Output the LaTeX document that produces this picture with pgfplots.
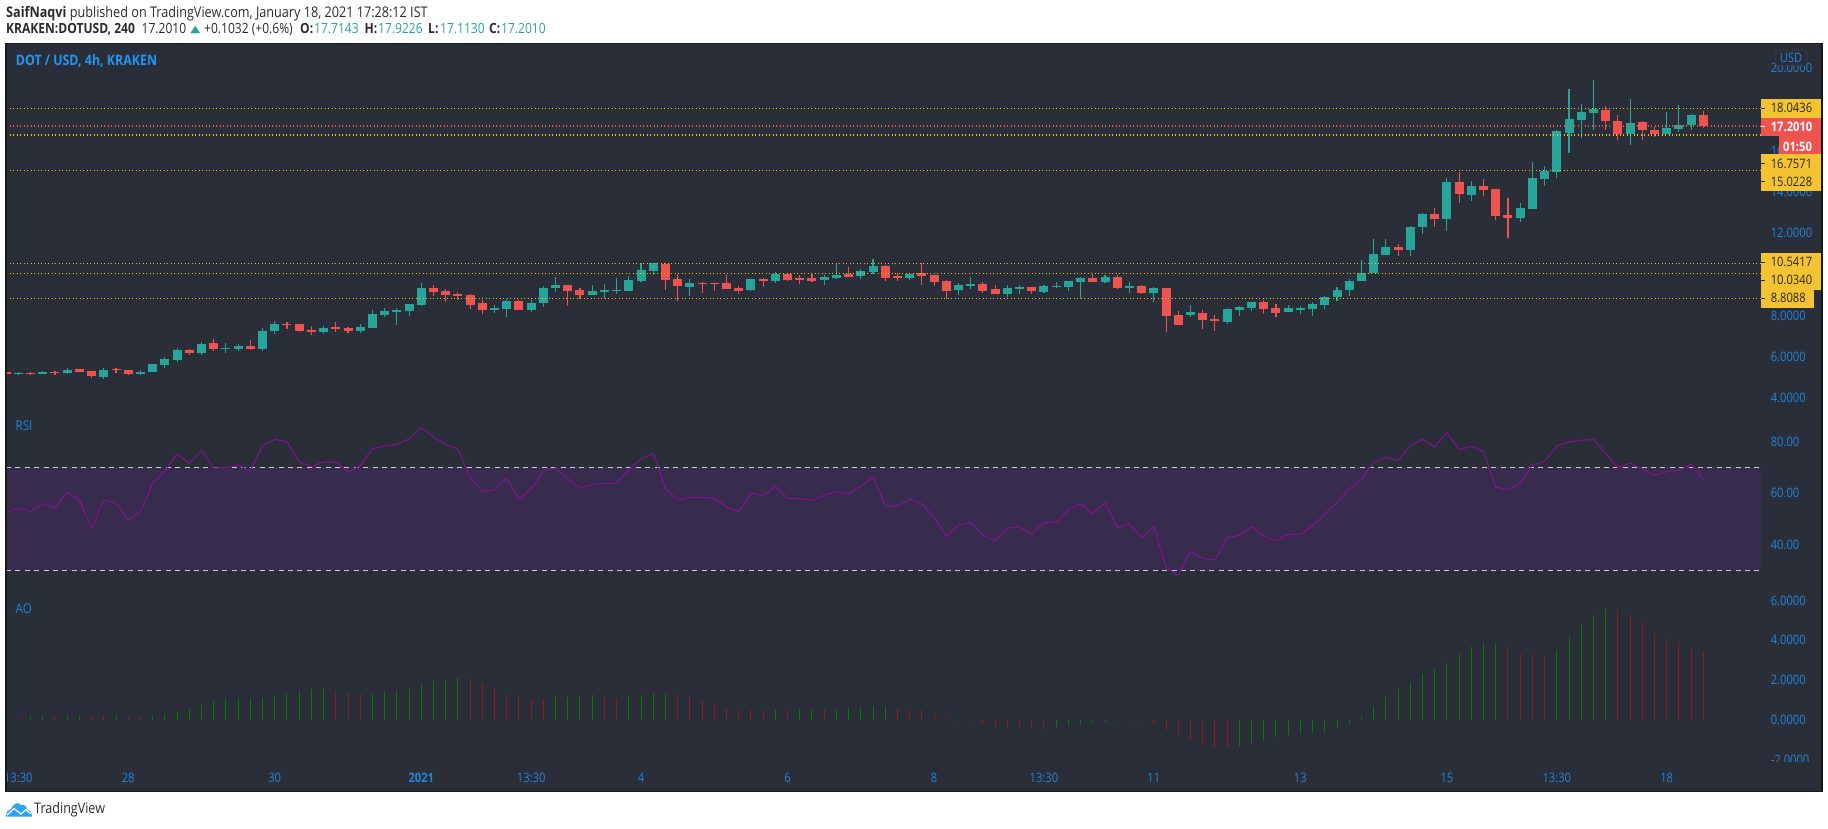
\documentclass[border=0pt]{standalone}
\usepackage{fontspec}
\usepackage{pgfplots}
\pgfplotsset{compat=1.18}
\newfontfamily\tv[FakeStretch=0.86]{Open Sans}
\newfontfamily\djv{DejaVu Sans}
\definecolor{tvbg}{HTML}{2A2E39}
\definecolor{tvteal}{HTML}{26A69A}
\definecolor{tvred}{HTML}{EF5350}
\definecolor{tvblue}{HTML}{2186DC}
\definecolor{tvtitle}{HTML}{2196F3}
\definecolor{tvyel}{HTML}{F3C331}
\definecolor{lvl}{HTML}{F7BC10}
\definecolor{bandc}{HTML}{382C4E}
\definecolor{rsic}{HTML}{82128E}
\definecolor{dashc}{HTML}{CFC8D8}
\definecolor{aog}{HTML}{008000}
\definecolor{aor}{HTML}{8B1E1E}
\definecolor{tvdark}{HTML}{3A3D45}
\definecolor{hdr}{HTML}{2B2B2B}
\definecolor{logo}{HTML}{2DA3F7}
\newcommand\Cdl[5]{%
 \ifdim #2pt>#5pt \def\cc{tvred}\else\def\cc{tvteal}\fi
 \edef\tmp{\noexpand\addplot[\cc,line width=1.1pt,forget plot] coordinates {(#1,#4)(#1,#3)};
 \noexpand\addplot[\cc,line width=9pt,forget plot] coordinates {(#1,#2)(#1,#5)};}\tmp}
\newcommand\Lv[2]{\addplot[#2,line width=1.2pt,dash pattern=on 1.4pt off 2.1pt,forget plot] coordinates {(-0.01,#1)(143.73,#1)};}
\pgfplotsset{pane/.style={
  at={(6pt,36.5pt)},anchor=south west,scale only axis,width=1816pt,height=748pt,
  xmin=-0.01,xmax=148.72,
  major tick length=0pt,tick style={draw=none},
  yticklabel pos=right,
  yticklabel style={font=\tv\fontsize{13}{13}\selectfont,text=tvblue,anchor=west,inner sep=0pt,xshift=-51.4pt},
  axis line style={draw=none},
}}
\begin{document}
\begin{tikzpicture}
\useasboundingbox (0,0) rectangle (1828pt,828pt);
\fill[white] (0,0) rectangle (1828pt,828pt);
% ---------- price
\begin{axis}[pane,
  axis background/.style={fill=tvbg},
  ymin=-15.107,ymax=21.204,
  ytick={4,6,8,10,12,14,16,18,20},
  /pgf/number format/.cd,fixed,fixed zerofill,precision=4,assume math mode=true,1000 sep={},/pgfplots/.cd,
  xtick={1,10,22,34,43,52,64,76,85,94,106,118,127,136},
  xticklabels={13:30,28,30,\bfseries 2021,13:30,4,6,8,13:30,11,13,15,13:30,18},
  xticklabel style={font=\tv\fontsize{13}{13}\selectfont,text=tvblue,anchor=center,yshift=13.8pt},
]
\Cdl{0}{5.26}{5.26}{5.18}{5.18}
\Cdl{1}{5.16}{5.26}{5.11}{5.21}
\Cdl{2}{5.21}{5.26}{5.13}{5.16}
\Cdl{3}{5.16}{5.31}{5.16}{5.26}
\Cdl{4}{5.26}{5.31}{5.11}{5.21}
\Cdl{5}{5.21}{5.45}{5.16}{5.35}
\Cdl{6}{5.40}{5.40}{5.26}{5.26}
\Cdl{7}{5.31}{5.31}{4.97}{5.06}
\Cdl{8}{5.01}{5.45}{4.92}{5.35}
\Cdl{9}{5.39}{5.45}{5.21}{5.34}
\Cdl{10}{5.35}{5.35}{5.11}{5.16}
\Cdl{11}{5.16}{5.35}{5.11}{5.26}
\Cdl{12}{5.26}{5.65}{5.26}{5.65}
\Cdl{13}{5.60}{5.99}{5.45}{5.89}
\Cdl{14}{5.84}{6.42}{5.74}{6.33}
\Cdl{15}{6.33}{6.37}{6.08}{6.18}
\Cdl{16}{6.18}{6.71}{6.08}{6.62}
\Cdl{17}{6.67}{6.86}{6.28}{6.37}
\Cdl{18}{6.37}{6.67}{6.18}{6.42}
\Cdl{19}{6.37}{6.62}{6.28}{6.52}
\Cdl{20}{6.52}{6.81}{6.33}{6.37}
\Cdl{21}{6.37}{7.39}{6.28}{7.25}
\Cdl{22}{7.25}{7.73}{7.10}{7.59}
\Cdl{23}{7.60}{7.68}{7.34}{7.56}
\Cdl{24}{7.59}{7.59}{7.20}{7.25}
\Cdl{25}{7.30}{7.49}{7.05}{7.20}
\Cdl{26}{7.20}{7.49}{7.10}{7.39}
\Cdl{27}{7.44}{7.68}{7.20}{7.34}
\Cdl{28}{7.39}{7.44}{7.15}{7.25}
\Cdl{29}{7.25}{7.59}{7.15}{7.44}
\Cdl{30}{7.39}{8.27}{7.39}{8.07}
\Cdl{31}{8.02}{8.36}{7.93}{8.22}
\Cdl{32}{8.17}{8.36}{7.54}{8.27}
\Cdl{33}{8.22}{8.56}{7.98}{8.56}
\Cdl{34}{8.51}{9.58}{8.46}{9.33}
\Cdl{35}{9.33}{9.48}{8.95}{9.14}
\Cdl{36}{9.19}{9.29}{8.66}{9.00}
\Cdl{37}{9.04}{9.14}{8.75}{8.95}
\Cdl{38}{9.00}{9.04}{8.32}{8.51}
\Cdl{39}{8.61}{8.75}{8.07}{8.27}
\Cdl{40}{8.27}{8.51}{8.12}{8.36}
\Cdl{41}{8.32}{8.80}{7.93}{8.70}
\Cdl{42}{8.70}{8.75}{8.27}{8.27}
\Cdl{43}{8.27}{8.75}{8.17}{8.61}
\Cdl{44}{8.61}{9.43}{8.41}{9.33}
\Cdl{45}{9.33}{9.87}{9.14}{9.48}
\Cdl{46}{9.48}{9.48}{8.46}{9.19}
\Cdl{47}{9.24}{9.33}{8.80}{9.00}
\Cdl{48}{9.00}{9.48}{9.00}{9.19}
\Cdl{49}{9.14}{9.53}{8.80}{9.24}
\Cdl{50}{9.19}{9.82}{9.04}{9.24}
\Cdl{51}{9.19}{9.92}{9.19}{9.72}
\Cdl{52}{9.68}{10.55}{9.63}{10.21}
\Cdl{53}{10.16}{10.55}{9.97}{10.55}
\Cdl{54}{10.50}{10.55}{9.24}{9.72}
\Cdl{55}{9.77}{10.02}{8.70}{9.43}
\Cdl{56}{9.38}{9.77}{8.95}{9.58}
\Cdl{57}{9.59}{9.63}{9.09}{9.55}
\Cdl{58}{9.58}{9.58}{9.19}{9.53}
\Cdl{59}{9.58}{9.97}{9.29}{9.29}
\Cdl{60}{9.34}{9.43}{9.04}{9.19}
\Cdl{61}{9.24}{9.77}{9.19}{9.77}
\Cdl{62}{9.77}{9.82}{9.38}{9.68}
\Cdl{63}{9.68}{10.11}{9.58}{10.02}
\Cdl{64}{10.02}{10.02}{9.68}{9.72}
\Cdl{65}{9.82}{9.97}{9.53}{9.72}
\Cdl{66}{9.82}{10.02}{9.63}{9.68}
\Cdl{67}{9.72}{9.97}{9.48}{9.87}
\Cdl{68}{9.82}{10.50}{9.77}{9.97}
\Cdl{69}{10.02}{10.36}{9.87}{9.87}
\Cdl{70}{9.92}{10.26}{9.77}{10.16}
\Cdl{71}{10.11}{10.74}{10.02}{10.40}
\Cdl{72}{10.40}{10.45}{9.68}{9.82}
\Cdl{73}{9.92}{10.06}{9.68}{9.82}
\Cdl{74}{9.82}{10.06}{9.72}{10.02}
\Cdl{75}{10.06}{10.55}{9.48}{9.92}
\Cdl{76}{9.97}{9.97}{9.43}{9.63}
\Cdl{77}{9.68}{9.72}{8.80}{9.19}
\Cdl{78}{9.24}{9.58}{9.00}{9.48}
\Cdl{79}{9.43}{9.87}{9.29}{9.53}
\Cdl{80}{9.53}{9.63}{9.09}{9.19}
\Cdl{81}{9.29}{9.48}{9.04}{9.04}
\Cdl{82}{9.04}{9.48}{8.90}{9.34}
\Cdl{83}{9.29}{9.48}{9.04}{9.38}
\Cdl{84}{9.38}{9.38}{9.04}{9.19}
\Cdl{85}{9.14}{9.48}{9.09}{9.43}
\Cdl{86}{9.38}{9.63}{9.34}{9.45}
\Cdl{87}{9.38}{9.68}{9.19}{9.68}
\Cdl{88}{9.63}{9.87}{8.80}{9.82}
\Cdl{89}{9.82}{10.02}{9.63}{9.63}
\Cdl{90}{9.63}{9.97}{9.58}{9.87}
\Cdl{91}{9.87}{9.97}{9.29}{9.34}
\Cdl{92}{9.34}{9.63}{9.09}{9.43}
\Cdl{93}{9.43}{9.48}{9.04}{9.09}
\Cdl{94}{9.09}{9.38}{8.66}{9.34}
\Cdl{95}{9.34}{9.34}{7.20}{7.98}
\Cdl{96}{8.03}{8.22}{7.54}{7.54}
\Cdl{97}{8.03}{8.51}{7.93}{8.17}
\Cdl{98}{8.12}{8.27}{7.35}{7.78}
\Cdl{99}{7.83}{8.03}{7.25}{7.73}
\Cdl{100}{7.69}{8.37}{7.59}{8.32}
\Cdl{101}{8.27}{8.46}{7.98}{8.41}
\Cdl{102}{8.37}{8.66}{8.22}{8.66}
\Cdl{103}{8.66}{8.75}{8.07}{8.32}
\Cdl{104}{8.37}{8.56}{7.93}{8.12}
\Cdl{105}{8.17}{8.51}{8.17}{8.37}
\Cdl{106}{8.27}{8.46}{8.07}{8.37}
\Cdl{107}{8.32}{8.66}{7.98}{8.56}
\Cdl{108}{8.51}{8.95}{8.32}{8.90}
\Cdl{109}{8.90}{9.39}{8.71}{9.24}
\Cdl{110}{9.24}{9.77}{8.95}{9.68}
\Cdl{111}{9.68}{10.70}{9.68}{10.06}
\Cdl{112}{10.06}{11.72}{10.06}{10.99}
\Cdl{113}{10.94}{11.72}{10.94}{11.33}
\Cdl{114}{11.33}{11.47}{10.89}{11.18}
\Cdl{115}{11.18}{12.35}{10.89}{12.30}
\Cdl{116}{12.30}{12.98}{11.96}{12.93}
\Cdl{117}{12.93}{13.22}{12.30}{12.69}
\Cdl{118}{12.69}{14.68}{12.10}{14.48}
\Cdl{119}{14.48}{14.97}{13.46}{13.90}
\Cdl{120}{13.85}{14.53}{13.56}{14.29}
\Cdl{121}{14.29}{14.63}{13.80}{14.09}
\Cdl{122}{14.14}{14.14}{12.64}{12.83}
\Cdl{123}{12.88}{13.71}{11.76}{12.73}
\Cdl{124}{12.73}{13.46}{12.54}{13.22}
\Cdl{125}{13.17}{15.45}{13.17}{14.68}
\Cdl{126}{14.63}{15.26}{14.29}{15.02}
\Cdl{127}{14.97}{17.01}{14.68}{16.96}
\Cdl{128}{16.86}{19.00}{15.89}{17.54}
\Cdl{129}{17.49}{18.27}{16.62}{17.88}
\Cdl{130}{17.83}{19.43}{17.01}{18.03}
\Cdl{131}{17.98}{18.17}{17.01}{17.44}
\Cdl{132}{17.44}{17.73}{16.52}{16.81}
\Cdl{133}{16.81}{18.51}{16.28}{17.35}
\Cdl{134}{17.39}{17.44}{16.52}{17.01}
\Cdl{135}{17.01}{17.15}{16.67}{16.81}
\Cdl{136}{16.81}{17.88}{16.81}{17.10}
\Cdl{137}{17.05}{18.22}{16.91}{17.25}
\Cdl{138}{17.25}{17.78}{17.01}{17.73}
\Cdl{139}{17.71}{17.92}{17.11}{17.20}
\Lv{18.0436}{lvl}
\Lv{17.2010}{tvred}
\Lv{16.7571}{lvl}
\Lv{15.0228}{lvl}
\Lv{10.5417}{lvl}
\Lv{10.0340}{lvl}
\Lv{8.8088}{lvl}
\end{axis}
% ---------- RSI
\begin{axis}[pane,
  ymin=-55.9,ymax=234.6,
  xtick=\empty,ytick={40,60,80},
  /pgf/number format/.cd,fixed,fixed zerofill,precision=2,assume math mode=true,/pgfplots/.cd,
]
\addplot[draw=none,fill=bandc,forget plot] coordinates {(-0.01,30)(143.73,30)(143.73,70)(-0.01,70)} --cycle;
\addplot[dashc,line width=1pt,dash pattern=on 5pt off 4.4pt,forget plot] coordinates {(-0.01,70)(143.73,70)};
\addplot[dashc,line width=1pt,dash pattern=on 5pt off 4.4pt,forget plot] coordinates {(-0.01,30)(143.73,30)};
\addplot[rsic,line width=1.1pt,line join=round,forget plot] coordinates {
(0,52.40)(1,54.08)(2,52.91)(3,55.50)(4,54.34)(5,60.29)(6,57.32)(7,46.05)(8,57.32)(9,56.28)
(10,49.42)(11,52.78)(12,63.79)(13,68.58)(14,75.18)(15,71.55)(16,76.60)(17,69.74)(18,69.87)(19,70.91)
(20,68.71)(21,78.42)(22,80.87)(23,79.97)(24,72.07)(25,70.26)(26,72.07)(27,71.94)(28,68.32)(29,70.52)
(30,77.25)(31,78.29)(32,78.93)(33,81.00)(34,85.41)(35,81.91)(36,78.80)(37,77.12)(38,66.12)(39,60.55)
(40,61.20)(41,65.73)(42,57.57)(43,61.59)(44,68.71)(45,69.74)(46,65.60)(47,61.85)(48,63.27)(49,63.79)
(50,63.79)(51,69.22)(52,73.24)(53,75.44)(54,61.72)(55,57.32)(56,58.35)(57,58.22)(58,58.09)(59,54.47)
(60,52.78)(61,59.90)(62,59.00)(63,62.62)(64,57.96)(65,57.83)(66,57.18)(67,59.13)(68,60.55)(69,59.77)
(70,62.75)(71,66.12)(72,54.98)(73,54.98)(74,57.57)(75,55.76)(76,50.58)(77,43.08)(78,47.61)(79,48.51)
(80,43.72)(81,41.39)(82,46.44)(83,46.96)(84,43.98)(85,48.64)(86,48.64)(87,53.56)(88,55.89)(89,52.14)
(90,56.15)(91,46.44)(92,48.12)(93,42.69)(94,46.96)(95,31.17)(96,27.93)(97,37.25)(98,34.66)(99,34.01)
(100,42.43)(101,43.72)(102,46.83)(103,43.33)(104,41.52)(105,43.98)(106,43.98)(107,47.09)(108,51.88)(109,56.41)
(110,61.46)(111,65.34)(112,71.94)(113,73.88)(114,72.59)(115,78.29)(116,80.87)(117,77.90)(118,83.59)(119,76.86)
(120,78.16)(121,76.09)(122,62.23)(123,61.33)(124,63.79)(125,70.91)(126,72.20)(127,78.29)(128,79.84)(129,80.49)
(130,80.87)(131,75.44)(132,69.87)(133,71.68)(134,69.22)(135,66.89)(136,68.32)(137,68.84)(138,71.17)(139,65.47)
};
\end{axis}
% ---------- AO
\begin{axis}[pane,
  ymin=-3.6,ymax=33.99,
  xtick=\empty,ytick={-2,0,2,4,6},
  /pgf/number format/.cd,fixed,fixed zerofill,precision=4,assume math mode=true,/pgfplots/.cd,
]
\addplot[ycomb,aog,line width=1pt,forget plot] coordinates {
(2,.20)(3,.20)(5,.20)(6,.20)(9,.20)(12,.20)(13,.30)(14,.40)(15,.55)(16,.75)(17,.95)(18,1.06)(19,1.06)(20,1.11)(21,1.11)
(22,1.21)(23,1.36)(24,1.46)(25,1.56)(26,1.56)(30,1.36)(31,1.46)(32,1.46)(33,1.56)(34,1.81)(35,1.96)(36,2.01)(37,2.11)
(45,1.16)(46,1.16)(47,1.21)(48,1.26)(51,1.16)(52,1.26)(53,1.36)(54,1.36)(63,.50)(65,.55)(66,.55)(68,.55)(69,.60)(70,.60)(71,.70)(72,.70)
(86,-.35)(87,-.30)(88,-.25)(89,-.15)(90,-.10)(91,-.05)
(101,-1.31)(102,-1.21)(103,-1.06)(104,-.85)(105,-.75)(106,-.65)(107,-.65)(108,-.60)(109,-.40)(110,-.20)
(111,.20)(112,.70)(113,1.16)(114,1.56)(115,1.91)(116,2.31)(117,2.56)(118,2.86)(119,3.32)(120,3.67)(121,3.87)(122,3.87)
(127,3.52)(128,4.22)(129,4.82)(130,5.28)(131,5.58)
};
\addplot[ycomb,aor,line width=1pt,forget plot] coordinates {
(1,.13)(4,.20)(7,.20)(8,.20)(10,.15)(11,.13)(27,1.51)(28,1.41)(29,1.31)(38,2.06)(39,1.86)(40,1.61)(41,1.36)(42,1.21)(43,1.06)(44,1.06)(49,1.21)
(50,1.11)(55,1.31)(56,1.21)(57,1.01)(58,.75)(59,.65)(60,.55)(61,.50)(62,.50)(64,.50)(67,.55)(73,.60)(74,.55)(75,.50)(76,.30)(77,.15)
(78,-.05)(79,-.10)(80,-.25)(81,-.35)(82,-.35)(83,-.35)(84,-.40)(85,-.45)(92,-.05)(93,-.05)(94,-.25)(95,-.50)(96,-.80)(97,-.95)(98,-1.21)(99,-1.41)(100,-1.41)
(123,3.67)(124,3.32)(125,3.27)(126,3.22)(132,5.58)(133,5.28)(134,4.92)(135,4.37)(136,4.07)(137,3.92)(138,3.62)(139,3.47)
};
\end{axis}
% ---------- overlays in reference pixels
\begin{scope}[x=1pt,y=-1pt,shift={(0,828pt)}]
\def\lab#1#2#3#4{\node[anchor=west,inner sep=0pt,text=#3,font=\tv\fontsize{13}{13}\selectfont] at (#1,#2) {#4};}
% cover for the clipped tick label
\fill[tvbg] (1766,761.7) rectangle (1821,772);
% price labels
\fill[tvyel] (1761,99) rectangle (1821.5,118);
\fill[tvred] (1761,118) rectangle (1821.5,136.5);
\fill[tvred] (1779,136.5) rectangle (1821.5,154);
\fill[tvyel] (1761,154) rectangle (1821.5,190.7);
\fill[tvyel] (1761,253) rectangle (1821.5,290);
\fill[tvyel] (1761,289.7) rectangle (1814,307.7);
\lab{1770.6}{108.3}{black!85}{18.0436}
\lab{1770.6}{126.7}{white}{\bfseries 17.2010}
\lab{1783}{146.5}{white}{\bfseries 01:50}
\lab{1770.6}{163.7}{black!85}{16.7571}
\lab{1770.6}{181.7}{black!85}{15.0228}
\lab{1770.6}{262.3}{black!85}{10.5417}
\lab{1770.6}{280.3}{black!85}{10.0340}
\lab{1770.6}{298.3}{black!85}{8.8088}
\foreach \yy in {108.3,163.7,181.7,262.3,280.3,298.3}{\draw[black!85,line width=.8pt] (1761,\yy)--(1765,\yy);}
\draw[white,line width=.8pt] (1761,126.7)--(1765,126.7);
% USD box
\filldraw[fill=tvbg,draw=tvdark,line width=.8pt,rounded corners=2pt] (1775.7,50) rectangle (1806.7,65.3);
\node[inner sep=0pt,text=tvblue,font=\tv\fontsize{13}{13}\selectfont] at (1791,58) {USD};
% pane titles
\node[anchor=west,inner sep=0pt,text=tvtitle,font=\tv\bfseries\fontsize{14.4}{14}\selectfont] at (15.7,60.7) {DOT / USD, 4h, KRAKEN};
\node[anchor=west,inner sep=0pt,text=tvblue,font=\tv\fontsize{13.5}{14}\selectfont] at (15.5,425.7) {RSI};
\node[anchor=west,inner sep=0pt,text=tvblue,font=\tv\fontsize{13.5}{14}\selectfont] at (15.5,608.7) {AO};
% frame
\fill[white] (0,770) rectangle (5.4,792);
\draw[black!90,line width=1.2pt] (6,43.5) rectangle (1822,791.5);
% header
\node[anchor=base west,inner sep=0pt,text=hdr,font=\tv\fontsize{14.7}{15}\selectfont] at (6,17.3) {\textbf{SaifNaqvi} published on TradingView.com, January 18, 2021 17:28:12 IST};
\def\hh#1#2#3{\node[anchor=base west,inner sep=0pt,text=#2,font=\tv\fontsize{14}{14}\selectfont] at (#1,33.9) {#3};}
\hh{6}{hdr}{\textbf{KRAKEN:DOTUSD, 240}}
\hh{141.5}{hdr}{17.2010}
\node[anchor=base west,inner sep=0pt,text=tvteal,font=\djv\fontsize{10}{10}\selectfont,xscale=1.3,transform shape] at (190,32.6) {▲};
\hh{204}{hdr}{+0.1032 (+0.6\%)}
\hh{300}{hdr}{\textbf{O:}}
\hh{314}{tvteal}{17.7143}
\hh{364.5}{hdr}{\textbf{H:}}
\hh{378}{tvteal}{17.9226}
\hh{428}{hdr}{\textbf{L:}}
\hh{440}{tvteal}{17.1130}
\hh{489}{hdr}{\textbf{C:}}
\hh{501}{tvteal}{17.2010}
% footer logo
\fill[logo] (6,816.5) .. controls (6,811) and (9,810) .. (11,809) .. controls (13,804) and (18,801) .. (21,805) .. controls (24,804) and (27,807) .. (27,809) .. controls (30,810) and (32,812) .. (32,816.5) -- cycle;
\draw[white,line width=1.2pt] (7,815)--(14,808.5)--(21,814)--(26,809.5)--(31,814);
\node[anchor=base west,inner sep=0pt,text=hdr,font=\tv\fontsize{14.6}{15}\selectfont] at (34,813.7) {TradingView};
\end{scope}
\end{tikzpicture}
\end{document}
